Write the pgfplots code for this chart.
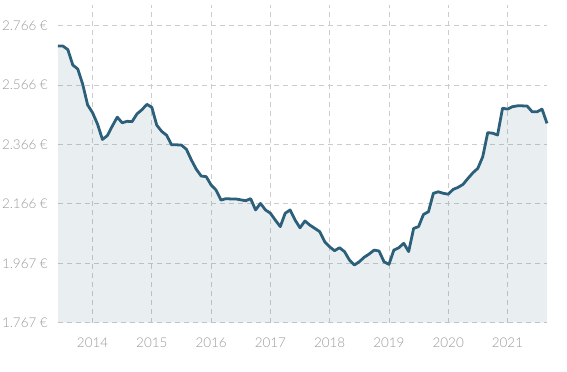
\documentclass[border=0pt]{standalone}
\usepackage{fontspec}
\setmainfont{Lato Light}
\usepackage{pgfplots}
\pgfplotsset{compat=1.18}
\definecolor{lineblue}{HTML}{2B5F7A}
\definecolor{gridgray}{HTML}{CCCCCC}
\definecolor{labelgray}{HTML}{999999}
\begin{document}
\begin{tikzpicture}
\path[use as bounding box] (-58bp,-49.3bp) rectangle (509bp,322.7bp);
\begin{axis}[
  at={(0,0)}, anchor=south west,
  scale only axis, width=489bp, height=317.7bp,
  xmin=2013.417, xmax=2021.667,
  ymin=1.767, ymax=2.835,
  axis line style={draw=none},
  major tick length=0pt,
  xtick={2014,2015,2016,2017,2018,2019,2020,2021},
  xticklabels={2014,2015,2016,2017,2018,2019,2020,2021},
  ytick={1.767,1.9668,2.1667,2.3665,2.5663,2.7662},
  yticklabels={1.767 €,1.967 €,2.166 €,2.366 €,2.566 €,2.766 €},
  grid=major,
  major grid style={gridgray, line width=0.8bp, dash pattern=on 5bp off 4bp},
  tick label style={font=\fontsize{13.5}{15}\selectfont, text=labelgray, inner sep=0pt},
  /pgf/number format/assume math mode=true,
  yticklabel style={anchor=east, xshift=-10bp},
  xticklabel style={anchor=north, yshift=-15.3bp},
  clip=false,
]
\addplot[draw=none, fill=lineblue, fill opacity=0.1] table {
x y
2013.417 2.697
2013.500 2.697
2013.583 2.685
2013.667 2.633
2013.750 2.620
2013.833 2.569
2013.917 2.499
2014.000 2.473
2014.083 2.435
2014.167 2.383
2014.250 2.396
2014.333 2.428
2014.417 2.458
2014.500 2.439
2014.583 2.444
2014.667 2.443
2014.750 2.469
2014.833 2.483
2014.917 2.501
2015.000 2.491
2015.083 2.431
2015.167 2.410
2015.250 2.397
2015.333 2.365
2015.417 2.365
2015.500 2.364
2015.583 2.350
2015.667 2.314
2015.750 2.283
2015.833 2.260
2015.917 2.258
2016.000 2.230
2016.083 2.213
2016.167 2.179
2016.250 2.184
2016.333 2.183
2016.417 2.183
2016.500 2.180
2016.583 2.177
2016.667 2.184
2016.750 2.146
2016.833 2.168
2016.917 2.146
2017.000 2.135
2017.083 2.112
2017.167 2.090
2017.250 2.135
2017.333 2.146
2017.417 2.112
2017.500 2.086
2017.583 2.109
2017.667 2.095
2017.750 2.084
2017.833 2.073
2017.917 2.039
2018.000 2.022
2018.083 2.009
2018.167 2.019
2018.250 2.006
2018.333 1.978
2018.417 1.961
2018.500 1.972
2018.583 1.987
2018.667 1.998
2018.750 2.011
2018.833 2.008
2018.917 1.972
2019.000 1.963
2019.083 2.011
2019.167 2.019
2019.250 2.034
2019.333 2.006
2019.417 2.084
2019.500 2.090
2019.583 2.131
2019.667 2.140
2019.750 2.202
2019.833 2.207
2019.917 2.202
2020.000 2.199
2020.083 2.215
2020.167 2.222
2020.250 2.232
2020.333 2.252
2020.417 2.271
2020.500 2.286
2020.583 2.325
2020.667 2.406
2020.750 2.404
2020.833 2.398
2020.917 2.488
2021.000 2.485
2021.083 2.493
2021.167 2.496
2021.250 2.496
2021.333 2.495
2021.417 2.476
2021.500 2.476
2021.583 2.485
2021.667 2.437
} \closedcycle;
\addplot[lineblue, line width=2.8bp, line join=round, mark=none] table {
x y
2013.417 2.697
2013.500 2.697
2013.583 2.685
2013.667 2.633
2013.750 2.620
2013.833 2.569
2013.917 2.499
2014.000 2.473
2014.083 2.435
2014.167 2.383
2014.250 2.396
2014.333 2.428
2014.417 2.458
2014.500 2.439
2014.583 2.444
2014.667 2.443
2014.750 2.469
2014.833 2.483
2014.917 2.501
2015.000 2.491
2015.083 2.431
2015.167 2.410
2015.250 2.397
2015.333 2.365
2015.417 2.365
2015.500 2.364
2015.583 2.350
2015.667 2.314
2015.750 2.283
2015.833 2.260
2015.917 2.258
2016.000 2.230
2016.083 2.213
2016.167 2.179
2016.250 2.184
2016.333 2.183
2016.417 2.183
2016.500 2.180
2016.583 2.177
2016.667 2.184
2016.750 2.146
2016.833 2.168
2016.917 2.146
2017.000 2.135
2017.083 2.112
2017.167 2.090
2017.250 2.135
2017.333 2.146
2017.417 2.112
2017.500 2.086
2017.583 2.109
2017.667 2.095
2017.750 2.084
2017.833 2.073
2017.917 2.039
2018.000 2.022
2018.083 2.009
2018.167 2.019
2018.250 2.006
2018.333 1.978
2018.417 1.961
2018.500 1.972
2018.583 1.987
2018.667 1.998
2018.750 2.011
2018.833 2.008
2018.917 1.972
2019.000 1.963
2019.083 2.011
2019.167 2.019
2019.250 2.034
2019.333 2.006
2019.417 2.084
2019.500 2.090
2019.583 2.131
2019.667 2.140
2019.750 2.202
2019.833 2.207
2019.917 2.202
2020.000 2.199
2020.083 2.215
2020.167 2.222
2020.250 2.232
2020.333 2.252
2020.417 2.271
2020.500 2.286
2020.583 2.325
2020.667 2.406
2020.750 2.404
2020.833 2.398
2020.917 2.488
2021.000 2.485
2021.083 2.493
2021.167 2.496
2021.250 2.496
2021.333 2.495
2021.417 2.476
2021.500 2.476
2021.583 2.485
2021.667 2.437
};
\end{axis}
\end{tikzpicture}
\end{document}
